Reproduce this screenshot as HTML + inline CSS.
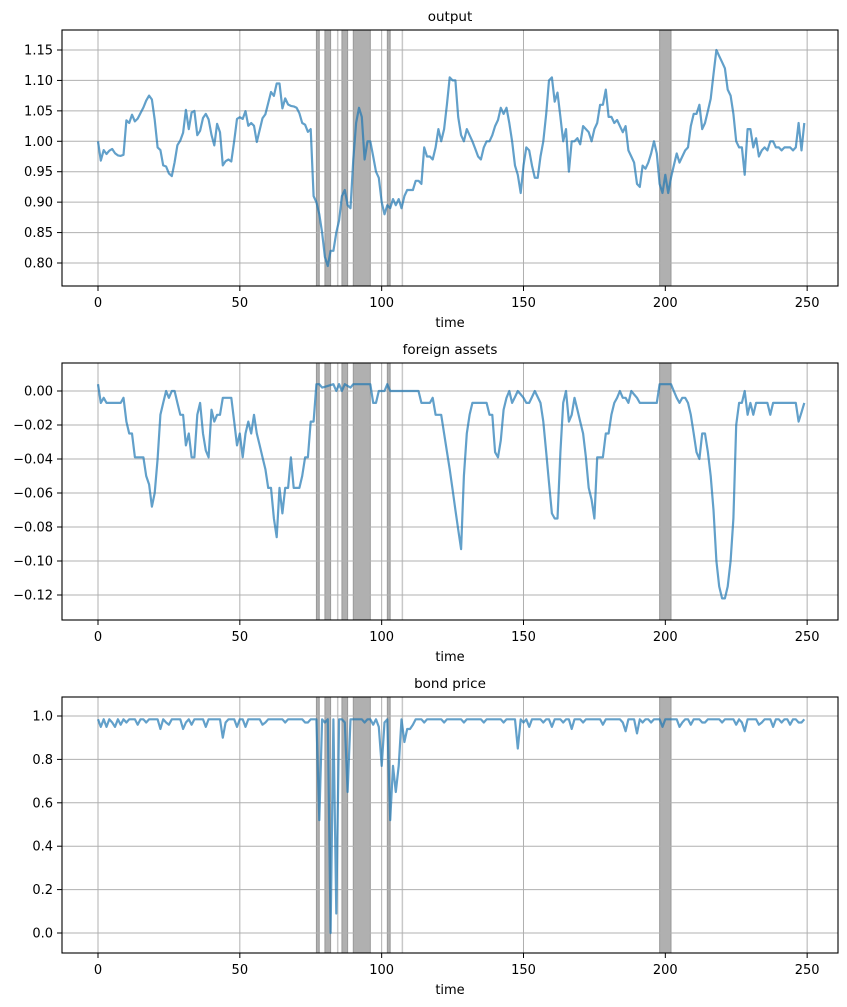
<!DOCTYPE html>
<html><head><meta charset="utf-8">
<style>body{margin:0;background:#fff}svg{display:block}text{font-family:"DejaVu Sans","Liberation Sans",sans-serif;fill:#000}</style>
</head><body>
<svg id="s" width="847" height="1007" xmlns="http://www.w3.org/2000/svg"></svg>
<script>
const S=document.getElementById('s');let h='';
const X=t=>98+t*2.8366;
function interp(pts){const m={};pts.forEach(p=>m[p[0]]=p[1]);const keys=Object.keys(m).map(Number).sort((a,b)=>a-b);const out=[];
for(let t=0;t<=249;t++){let i=0;while(i<keys.length-1&&keys[i+1]<t)i++;let a=keys[i],b=keys[Math.min(i+1,keys.length-1)];let v;
if(t<=keys[0])v=m[keys[0]];else if(t>=keys[keys.length-1])v=m[keys[keys.length-1]];else if(a===b)v=m[a];else v=m[a]+(m[b]-m[a])*(t-a)/(b-a);out.push(v);}return out;}
const p1=[1.00,0.965,0.99,0.975,0.99,0.985,0.975,0.98,0.965,1.035,1.03,1.045,1.03,1.04,1.05,1.06,1.075,1.075,1.04,0.99,0.985,0.955,0.96,0.94,0.945,0.99,1.0,1.005,1.055,1.02,1.05,1.05,0.995,1.03,1.045,1.045,1.02,0.985,1.03,1.015,0.955,0.97,0.97,0.965,1.03,1.045,1.03,1.055,1.025,1.03,1.025,0.99,1.035,1.04,1.05,1.085,1.07,1.095,1.095,1.05,1.075,1.055,1.06,1.055,1.055,1.03,1.03,1.015,1.02];
const outPts=p1.map((v,i)=>[Math.round(i*75/68*10)/10,v]);
const rest={76:0.91,77:0.90,78:0.88,79:0.85,80:0.81,81:0.795,82:0.82,83:0.82,84:0.85,85:0.87,86:0.91,87:0.92,88:0.895,89:0.89,90:0.97,91:1.03,92:1.055,93:1.04,94:0.97,95:1.0,96:1.0,97:0.975,98:0.95,99:0.94,100:0.90,101:0.88,102:0.895,103:0.89,104:0.905,105:0.895,106:0.905,107:0.89,108:0.91,109:0.92,110:0.92,111:0.92,112:0.935,113:0.935,114:0.93,115:0.99,116:0.975,117:0.975,118:0.97,119:0.99,120:1.02,121:1.0,122:1.02,123:1.06,124:1.105,125:1.1,126:1.1,127:1.04,128:1.01,129:1.0,130:1.02,132:1.0,134:0.975,135:0.97,136:0.99,137:1.0,138:1.0,139:1.01,140:1.025,141:1.035,142:1.055,143:1.045,144:1.055,145:1.03,146:1.0,147:0.96,148:0.945,149:0.915,150:0.96,151:0.99,152:0.985,153:0.96,154:0.94,155:0.94,156:0.975,157:1.0,158:1.045,159:1.1,160:1.105,161:1.065,162:1.08,163:1.04,164:1.0,165:1.02,166:0.95,167:1.0,168:1.0,169:1.005,170:0.995,171:1.025,172:1.02,173:1.015,174:1.0,175:1.02,176:1.03,177:1.06,178:1.06,179:1.085,180:1.04,181:1.04,182:1.03,183:1.035,184:1.025,185:1.015,186:1.025,187:0.985,188:0.975,189:0.965,190:0.93,191:0.925,192:0.96,193:0.955,194:0.965,195:0.98,196:1.0,197:0.98,198:0.93,199:0.915,200:0.945,201:0.915,202:0.94,203:0.96,204:0.98,205:0.965,206:0.975,207:0.985,208:0.99,209:1.025,210:1.045,211:1.045,212:1.06,213:1.02,214:1.03,215:1.05,216:1.07,217:1.11,218:1.15,219:1.14,220:1.13,221:1.12,222:1.085,223:1.075,224:1.045,225:1.0,226:0.99,227:0.99,228:0.945,229:1.02,230:1.02,231:0.99,232:1.005,233:0.975,234:0.985,235:0.99,236:0.985,237:1.0,238:1.0,239:0.99,240:0.99,241:0.985,242:0.99,243:0.99,244:0.99,245:0.985,246:0.99,247:1.03,248:0.985,249:1.03};
for(const k in rest)outPts.push([+k,rest[k]]);
const out=interp(outPts);
const fa=interp([[0,0.004],[1,-0.007],[2,-0.004],[3,-0.007],[8,-0.007],[9,-0.004],[10,-0.018],[11,-0.025],[12,-0.025],[13,-0.039],[16,-0.039],[17,-0.05],[18,-0.055],[19,-0.068],[20,-0.06],[21,-0.04],[22,-0.014],[23,-0.007],[24,0],[25,-0.004],[26,0],[27,0],[28,-0.007],[29,-0.014],[30,-0.014],[31,-0.032],[32,-0.025],[33,-0.039],[34,-0.039],[35,-0.014],[36,-0.007],[37,-0.025],[38,-0.035],[39,-0.039],[40,-0.011],[41,-0.018],[42,-0.014],[43,-0.014],[44,-0.004],[47,-0.004],[48,-0.018],[49,-0.032],[50,-0.025],[51,-0.039],[52,-0.025],[53,-0.018],[54,-0.025],[55,-0.014],[56,-0.025],[57,-0.032],[58,-0.039],[59,-0.046],[60,-0.057],[61,-0.057],[62,-0.075],[63,-0.086],[64,-0.057],[65,-0.072],[66,-0.057],[67,-0.057],[68,-0.039],[69,-0.057],[71,-0.057],[72,-0.05],[73,-0.039],[74,-0.039],[75,-0.018],[76,-0.018],[77,0.004],[78,0.004],[79,0.002],[83,0.004],[84,0],[85,0.004],[86,0],[87,0.004],[89,0.002],[90,0.004],[96,0.004],[97,-0.007],[98,-0.007],[99,0],[101,0],[102,0.004],[103,0],[113,0],[114,-0.007],[117,-0.007],[118,-0.004],[119,-0.014],[121,-0.014],[122,-0.025],[124,-0.046],[126,-0.07],[128,-0.093],[129,-0.05],[130,-0.025],[131,-0.014],[132,-0.007],[137,-0.007],[138,-0.014],[139,-0.014],[140,-0.036],[141,-0.039],[142,-0.029],[143,-0.011],[144,-0.004],[145,0],[146,-0.007],[148,0],[150,-0.004],[151,-0.007],[152,-0.007],[154,0],[156,-0.007],[157,-0.018],[158,-0.036],[159,-0.054],[160,-0.072],[161,-0.075],[162,-0.075],[163,-0.036],[164,-0.007],[165,0],[166,-0.018],[167,-0.014],[168,-0.004],[169,-0.011],[170,-0.018],[171,-0.025],[172,-0.039],[173,-0.057],[174,-0.064],[175,-0.075],[176,-0.039],[178,-0.039],[179,-0.025],[180,-0.025],[181,-0.014],[182,-0.007],[183,-0.004],[184,0],[185,-0.004],[186,-0.004],[187,-0.007],[188,0],[190,-0.004],[191,-0.007],[197,-0.007],[198,0.004],[202,0.004],[203,0],[204,-0.004],[205,-0.007],[206,-0.004],[207,-0.004],[208,-0.007],[209,-0.014],[210,-0.025],[211,-0.036],[212,-0.04],[213,-0.025],[214,-0.025],[215,-0.036],[216,-0.05],[217,-0.07],[218,-0.1],[219,-0.115],[220,-0.122],[221,-0.122],[222,-0.115],[223,-0.1],[224,-0.075],[225,-0.02],[226,-0.007],[227,-0.007],[228,0],[229,-0.014],[230,-0.007],[231,-0.014],[232,-0.007],[236,-0.007],[237,-0.014],[238,-0.007],[246,-0.007],[247,-0.018],[249,-0.007]]);
const bd=[];const dips={1:0.95,3:0.95,5:0.97,6:0.95,8:0.96,14:0.96,22:0.94,25:0.96,30:0.94,33:0.96,38:0.95,44:0.9,49:0.95,52:0.95,58:0.96,66:0.97,73:0.97,74:0.97,78:0.52,82:0.0,84:0.09,88:0.65,97:0.96,99:0.95,100:0.77,103:0.52,104:0.77,105:0.65,106:0.77,108:0.88,109:0.94,110:0.94,111:0.96,148:0.85,152:0.95,160:0.95,167:0.94,178:0.96,186:0.93,190:0.92,195:0.97,199:0.95,205:0.95,209:0.96,214:0.97,225:0.96,228:0.93,233:0.96,238:0.95,244:0.96,247:0.97};
for(let t=0;t<250;t++)bd.push(dips[t]!==undefined?dips[t]:(t%7==3?0.97:0.985));
const spans=[[77,78],[80,82],[86,88],[90,96],[102,103],[198,202]];
const thin=[84.5,107.3];
function axis(top,bot,ymin,ymax,ticks,fmt,data,title){
 const Y=v=>bot-(v-ymin)/(ymax-ymin)*(bot-top);
 spans.forEach(s=>h+=`<rect x="${X(s[0])}" y="${top}" width="${X(s[1])-X(s[0])}" height="${bot-top}" fill="#b0b0b0"/><rect x="${X(s[0])}" y="${top}" width="${X(s[1])-X(s[0])}" height="${bot-top}" fill="none" stroke="#999" stroke-width="1"/>`);
 thin.forEach(t=>h+=`<line x1="${X(t)}" x2="${X(t)}" y1="${top}" y2="${bot}" stroke="#c8c8c8" stroke-width="1.5"/>`);
 [0,50,100,150,200,250].forEach(t=>{h+=`<line x1="${X(t)}" x2="${X(t)}" y1="${top}" y2="${bot}" stroke="#b0b0b0" stroke-width="1"/><line x1="${X(t)}" x2="${X(t)}" y1="${bot}" y2="${bot+5}" stroke="#000" stroke-width="1"/><text x="${X(t)}" y="${bot+21}" font-size="13" text-anchor="middle">${t}</text>`;});
 ticks.forEach(v=>{const y=Y(v);h+=`<line x1="62" x2="838" y1="${y}" y2="${y}" stroke="#b0b0b0" stroke-width="1"/><line x1="57" x2="62" y1="${y}" y2="${y}" stroke="#000" stroke-width="1"/><text x="53" y="${y+4.5}" font-size="13" text-anchor="end">${fmt(v)}</text>`;});
 h+=`<polyline fill="none" stroke="#1f77b4" stroke-opacity="0.7" stroke-width="2.2" stroke-linejoin="round" points="${data.map((v,i)=>X(i).toFixed(1)+','+Y(v).toFixed(1)).join(' ')}"/>`;
 h+=`<rect x="62" y="${top}" width="776" height="${bot-top}" fill="none" stroke="#000" stroke-width="1.1"/>`;
 h+=`<text x="450" y="${top-9}" font-size="13.5" text-anchor="middle">${title}</text><text x="450" y="${bot+41}" font-size="13" text-anchor="middle">time</text>`;
}
axis(30,286,0.80-(286-263)/608.6,1.15+(50-30)/608.6,[0.80,0.85,0.90,0.95,1.00,1.05,1.10,1.15],v=>v.toFixed(2),out,'output');
axis(363,620,-0.12-(620-595)/1700,(391-363)/1700,[-0.12,-0.10,-0.08,-0.06,-0.04,-0.02,0.00],v=>{let s=v.toFixed(2);if(s==='-0.00')s='0.00';return s.replace('-','\u2212');},fa,'foreign assets');
axis(697,953,-(953-933)/217,1+(716-697)/217,[0,0.2,0.4,0.6,0.8,1.0],v=>v.toFixed(1),bd,'bond price');
S.innerHTML=h;
</script>
</body></html>
